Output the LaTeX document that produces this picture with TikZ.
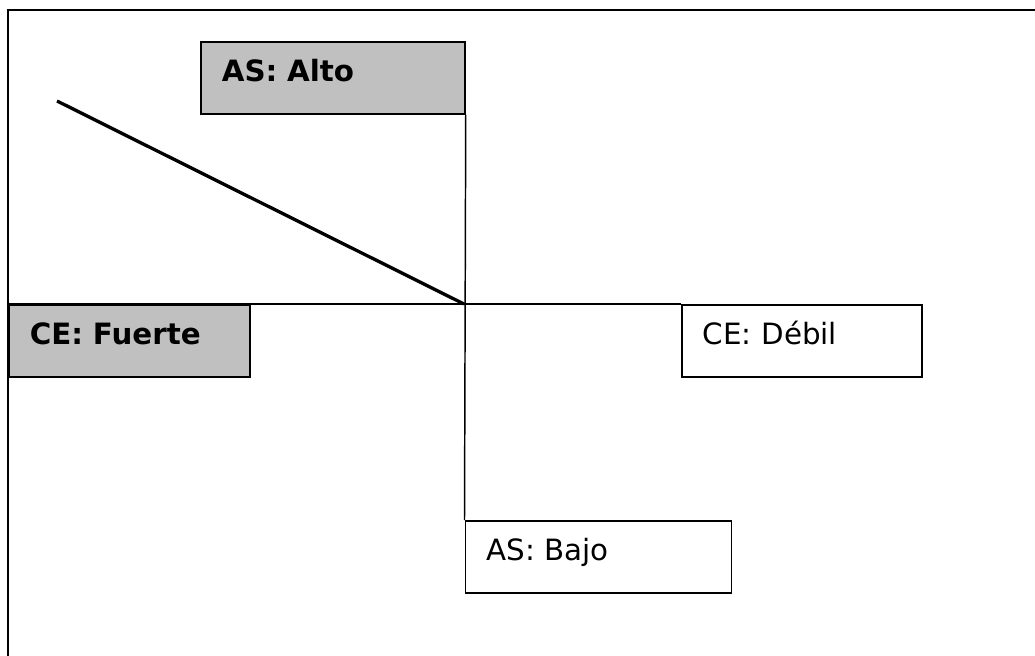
\documentclass[tikz,border=0pt]{standalone}
\usepackage{fontspec}
\setmainfont{DejaVu Sans}
\usetikzlibrary{positioning}
\definecolor{relleno}{RGB}{192,192,192}
\tikzset{
  cuadro/.style={draw, line width=1.3pt, anchor=north west, align=left,
    inner xsep=15.75pt, inner ysep=0pt, text height=30pt, text depth=24pt,
    font=\fontsize{22pt}{26pt}\selectfont},
  gris/.style={cuadro, fill=relleno, font=\fontsize{22pt}{26pt}\selectfont\bfseries},
  eje/.style={line width=1.1pt}
}
\begin{document}
\begin{tikzpicture}[x=0.75pt, y=-0.75pt]
\useasboundingbox (0,0) rectangle (1035,656);
\draw[eje] (1035,10)--(8,10)--(8,656);

\node[gris, text width=166.5pt] (alto) at (200,41) {AS: Alto};
\node[gris, text width=149.25pt] (fuerte) at (8,304) {CE: Fuerte};
\node[cuadro, text width=148.5pt] (debil) at (681,304) {CE: Débil};
\node[cuadro, text width=168pt] (bajo) at (464.5,520) {AS: Bajo};

\coordinate (origen) at (464,304);
\coordinate (inicio) at (57,101);

\draw[eje] (alto.south east)--(bajo.north west);
\draw[eje] (fuerte.north west)--(debil.north west);
\draw[line width=2.5pt] (inicio)--(origen);
\end{tikzpicture}
\end{document}
